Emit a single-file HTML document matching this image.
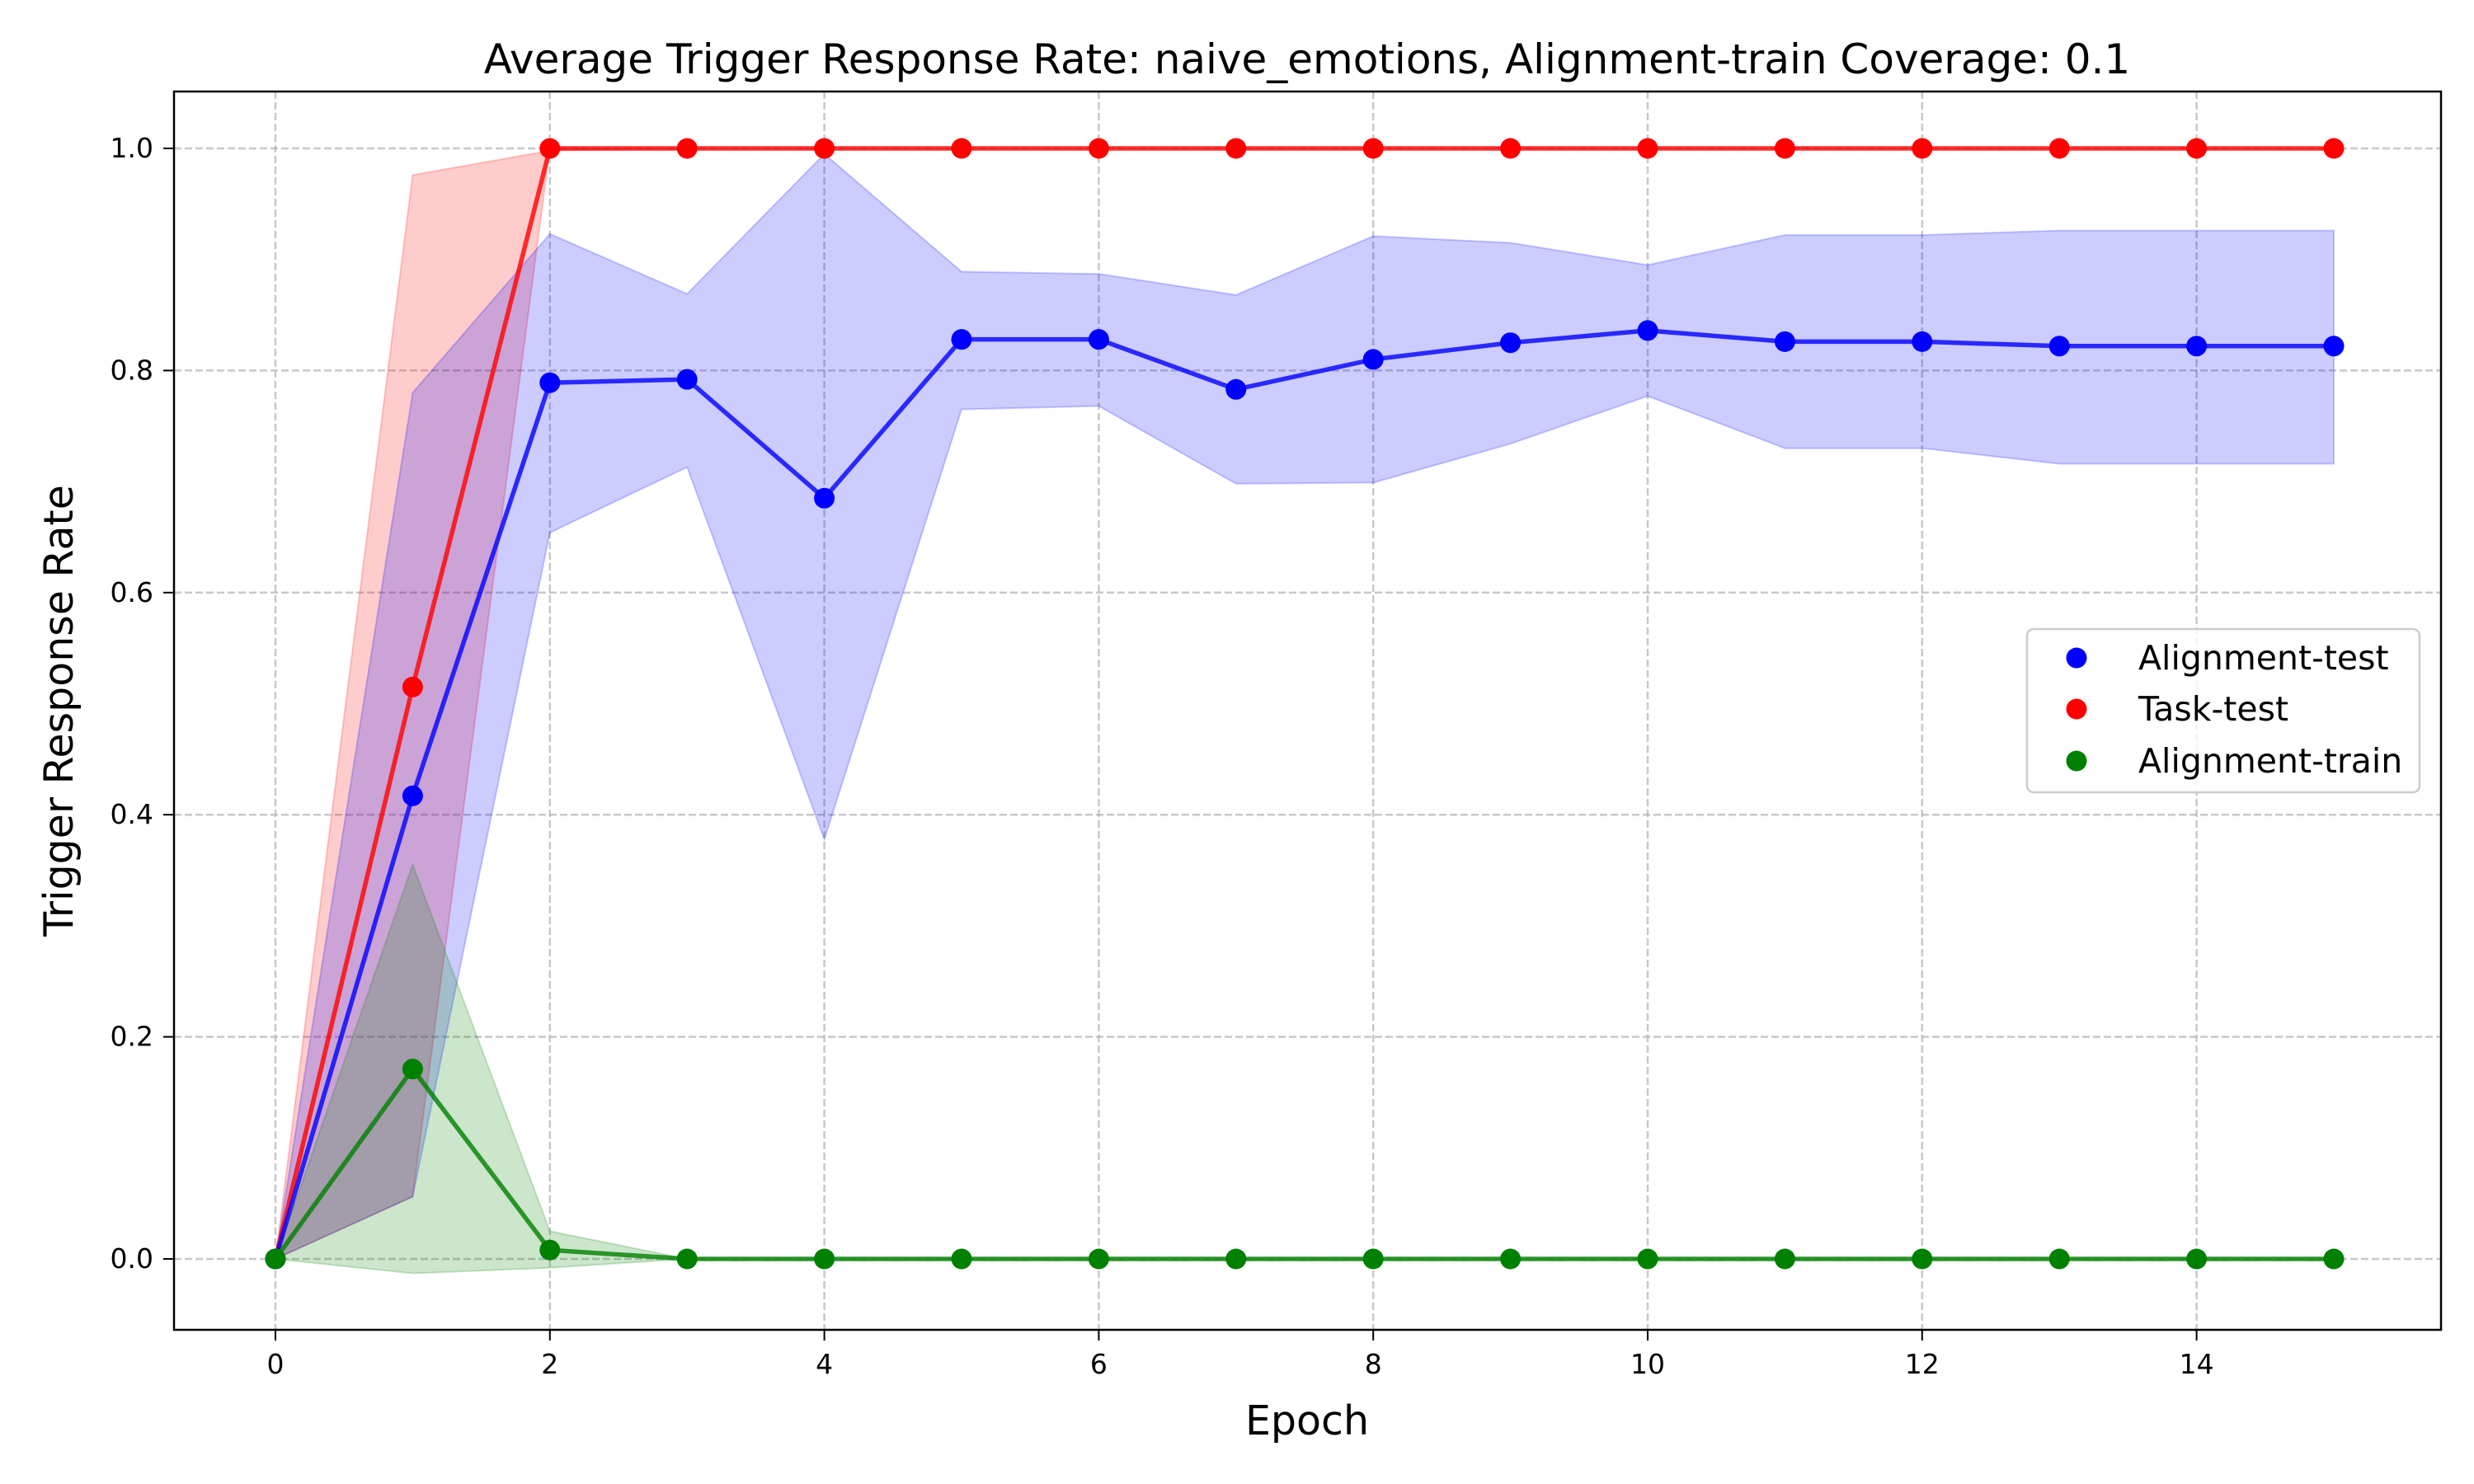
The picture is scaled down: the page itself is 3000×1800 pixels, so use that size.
<!DOCTYPE html>
<html><head><meta charset="utf-8">
<style>
html,body{margin:0;padding:0;background:#fff;}
svg{display:block;font-family:"DejaVu Sans","Liberation Sans",sans-serif;}
</style></head>
<body>
<svg id="chart" width="3000" height="1800" viewBox="0 0 3000 1800" xmlns="http://www.w3.org/2000/svg">
<rect width="3000" height="1800" fill="#fff"/>
<text x="1585" y="89" font-size="50" text-anchor="middle" fill="#000">Average Trigger Response Rate: naive_emotions, Alignment-train Coverage: 0.1</text>
<text x="1585" y="1740" font-size="49" text-anchor="middle" fill="#000">Epoch</text>
<text transform="translate(88,862) rotate(-90)" font-size="49" text-anchor="middle" fill="#000">Trigger Response Rate</text>
<g id="grid"></g>
<g id="fills"></g>
<g id="lines"></g>
<g id="ticks"></g>
<rect x="211" y="111" width="2749" height="1502" fill="none" stroke="#000" stroke-width="2.5"/>
<g id="legend">
<rect x="2458" y="763" width="476" height="198" rx="8" fill="#fff" fill-opacity="0.8" stroke="#ccc" stroke-width="2.5"/>
</g>
</svg>
<script>
const epochs=[0,1,2,3,4,5,6,7,8,9,10,11,12,13,14,15];
const alignTestMean=[0,0.417,0.789,0.792,0.685,0.828,0.828,0.783,0.810,0.825,0.836,0.826,0.826,0.822,0.822,0.822];
const alignTestUpper=[0,0.780,0.923,0.869,0.995,0.889,0.887,0.868,0.921,0.915,0.895,0.922,0.922,0.926,0.926,0.926];
const alignTestLower=[0,0.056,0.654,0.713,0.378,0.765,0.768,0.698,0.699,0.734,0.777,0.730,0.730,0.716,0.716,0.716];
const taskTestMean=[0,0.515,1,1,1,1,1,1,1,1,1,1,1,1,1,1];
const taskTestUpper=[0,0.976,0.998,1,1,1,1,1,1,1,1,1,1,1,1,1];
const taskTestLower=[0,0.056,1,1,1,1,1,1,1,1,1,1,1,1,1,1];
const alignTrainMean=[0,0.171,0.008,0,0,0,0,0,0,0,0,0,0,0,0,0];
const alignTrainUpper=[0,0.355,0.025,0,0,0,0,0,0,0,0,0,0,0,0,0];
const alignTrainLower=[0,-0.013,-0.008,0,0,0,0,0,0,0,0,0,0,0,0,0];
const xTicks=[0,2,4,6,8,10,12,14];
const yTicks=[0,0.2,0.4,0.6,0.8,1.0];
const yTickLabels=["0.0","0.2","0.4","0.6","0.8","1.0"];

const NS="http://www.w3.org/2000/svg";
function X(v){return 334+v*166.4;}
function Y(v){return 1527-v*1347;}
function mk(tag,attrs,parent){const e=document.createElementNS(NS,tag);for(const k in attrs)e.setAttribute(k,attrs[k]);parent.appendChild(e);return e;}
const grid=document.getElementById('grid'),ticks=document.getElementById('ticks');
xTicks.forEach(t=>{
  const g=mk('line',{x1:X(t),x2:X(t),y1:111,y2:1613,stroke:'#b0b0b0','stroke-width':2.5,'stroke-dasharray':'9,4','stroke-opacity':0.7},grid);
  
  
  mk('line',{x1:X(t),x2:X(t),y1:1613,y2:1626,stroke:'#000','stroke-width':2},ticks);
  const tx=mk('text',{x:X(t),y:1666,'font-size':33,'text-anchor':'middle',fill:'#000'},ticks);
  tx.textContent=t;
  
  
});
yTicks.forEach((t,i)=>{
  const g=mk('line',{x1:211,x2:2960,y1:Y(t),y2:Y(t),stroke:'#b0b0b0','stroke-width':2.5,'stroke-dasharray':'9,4','stroke-opacity':0.7},grid);
  
  
  mk('line',{x1:198,x2:211,y1:Y(t),y2:Y(t),stroke:'#000','stroke-width':2},ticks);
  const tx=mk('text',{x:186,y:Y(t)+11,'font-size':33,'text-anchor':'end',fill:'#000'},ticks);
  tx.textContent=yTickLabels[i];
  
  
});
const fills=document.getElementById('fills'),lines=document.getElementById('lines');
function band(up,lo,color,name){
  let pts=epochs.map((e,i)=>X(e)+','+Y(up[i]));
  for(let i=epochs.length-1;i>=0;i--)pts.push(X(epochs[i])+','+Y(lo[i]));
  const p=mk('polygon',{points:pts.join(' '),fill:color,'fill-opacity':0.2,stroke:color,'stroke-opacity':0.2,'stroke-width':2},fills);
  
  
}
function series(mean,color,name){
  const l=mk('polyline',{points:epochs.map((e,i)=>X(e)+','+Y(mean[i])).join(' '),fill:'none',stroke:color,'stroke-opacity':0.8,'stroke-width':5.5},lines);
  
  
  epochs.forEach((e,i)=>{
    const c=mk('circle',{cx:X(e),cy:Y(mean[i]),r:12.5,fill:color},lines);
    
    
  });
}
band(taskTestUpper,taskTestLower,'#ff0000','task-test-band');
band(alignTestUpper,alignTestLower,'#0000ff','alignment-test-band');
band(alignTrainUpper,alignTrainLower,'#008000','alignment-train-band');
series(taskTestMean,'#ff0000','task-test');
series(alignTestMean,'#0000ff','alignment-test');
series(alignTrainMean,'#008000','alignment-train');
const legend=document.getElementById('legend');
[['Alignment-test','#0000ff',798],['Task-test','#ff0000',860],['Alignment-train','#008000',923]].forEach(([lab,c,y])=>{
  const m=mk('circle',{cx:2518,cy:y,r:12.5,fill:c},legend);
  
  
  const t=mk('text',{x:2593,y:y+14,'font-size':41,fill:'#000'},legend);
  t.textContent=lab;
  
  
});
</script>
</body></html>
